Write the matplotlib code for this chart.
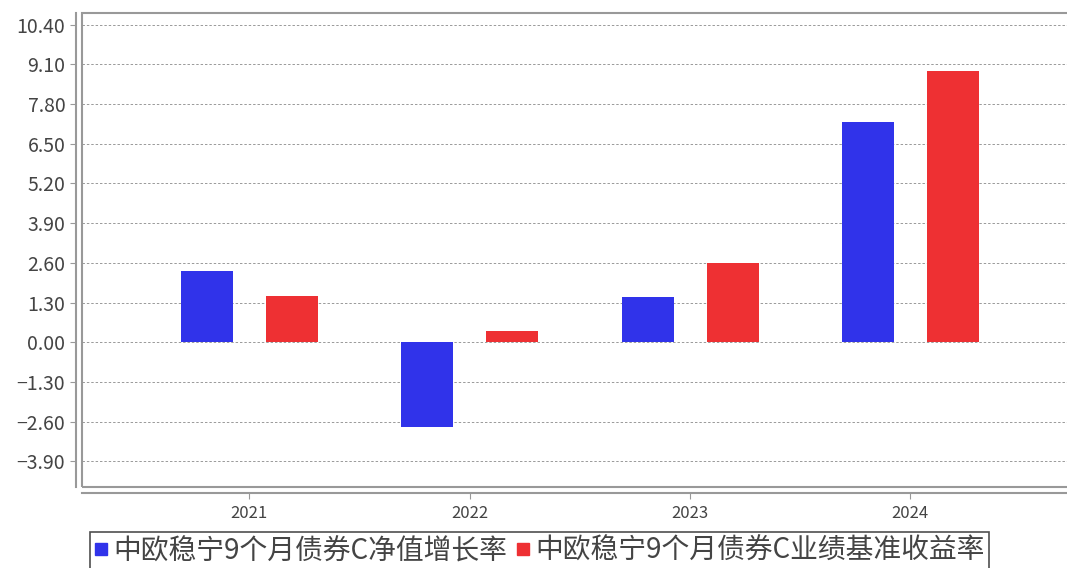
import matplotlib.pyplot as plt
import numpy as np
from matplotlib.lines import Line2D
from matplotlib.patches import Rectangle

plt.rcParams["font.family"] = ["Noto Sans CJK SC", "DejaVu Sans"]

years = ["2021", "2022", "2023", "2024"]
nav_growth = [2.32, -2.79, 1.49, 7.21]
benchmark = [1.51, 0.37, 2.60, 8.87]
series_names = ["中欧稳宁9个月债券C净值增长率", "中欧稳宁9个月债券C业绩基准收益率"]
y_ticks = [-3.90, -2.60, -1.30, 0.00, 1.30, 2.60, 3.90, 5.20, 6.50, 7.80, 9.10, 10.40]

blue = "#3033EA"
red = "#EE3033"

W, H = 1067, 568
fig = plt.figure(figsize=(W / 100, H / 100), dpi=100)
ax = fig.add_axes([82 / W, 1 - 487 / H, (1080 - 82) / W, (487 - 13) / H])

x = np.arange(len(years))
width = 0.236
offset = 0.193
ax.bar(x - offset, nav_growth, width, color=blue, zorder=3)
ax.bar(x + offset, benchmark, width, color=red, zorder=3)

ax.set_xlim(-0.76, 3.77)
ax.set_ylim(-4.74, 10.78)
ax.set_yticks(y_ticks)
ax.set_yticklabels([f"{v:.2f}".replace("-", "\u2212") for v in y_ticks])
ax.set_xticks(x)
ax.set_xticklabels(years)

ax.grid(axis="y", color="#999999", linestyle=(0, (2.5, 2)), linewidth=0.7, zorder=1)

for side in ("top", "right"):
    ax.spines[side].set_visible(False)
ax.spines["left"].set_position(("outward", 4.5))
ax.spines["bottom"].set_position(("outward", 4))
for side in ("left", "bottom"):
    ax.spines[side].set_color("#999999")
    ax.spines[side].set_linewidth(1.5)
ax.add_patch(Rectangle((0, 0), 1, 1, transform=ax.transAxes, fill=False,
                       edgecolor="#999999", linewidth=1.5, clip_on=False, zorder=4))

ax.tick_params(axis="y", colors="#999999", labelcolor="#444444", labelsize=14, length=4)
ax.tick_params(axis="x", colors="#999999", labelcolor="#444444", labelsize=12, length=4, pad=5)

handles = [Line2D([], [], marker="s", linestyle="none", color=c, markersize=8)
           for c in (blue, red)]
leg = fig.legend(handles, series_names, loc="upper left",
                 bbox_to_anchor=(90 / W, 1 - 532 / H), frameon=True, fancybox=False,
                 edgecolor="#222222", fontsize=20, handlelength=0.5, handletextpad=0.2,
                 columnspacing=0.3, ncol=2, borderpad=0.15, borderaxespad=0)
leg.get_frame().set_linewidth(1.2)
for t in leg.get_texts():
    t.set_color("#444444")

fig.savefig("out.png", dpi=100)
